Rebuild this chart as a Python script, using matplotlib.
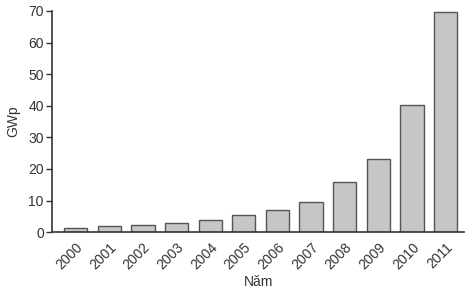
import matplotlib
matplotlib.use("Agg")
import matplotlib.pyplot as plt

years = ["2000", "2001", "2002", "2003", "2004", "2005", "2006", "2007", "2008", "2009", "2010", "2011"]
values = [1.4, 1.8, 2.2, 2.9, 3.9, 5.4, 6.9, 9.5, 15.8, 23.3, 40.1, 69.8]

plt.rcParams['font.family'] = ['Liberation Sans', 'DejaVu Sans']
fig = plt.figure(figsize=(4.74, 2.88), dpi=100)
ax = fig.add_axes([0.110, 0.194, 0.869, 0.768])
dark = "#333333"
fs = 10
x = list(range(len(years)))
ax.bar(x, values, width=0.69, color="#c6c6c6", edgecolor="#555555", linewidth=1.0)
ax.set_xlim(-0.7, 11.55)
ax.set_ylim(0, 70)
ax.set_yticks([0, 10, 20, 30, 40, 50, 60, 70])
ax.set_xticks(x)
ax.set_xticklabels(years, rotation=45, ha="right", rotation_mode="anchor", fontsize=fs, color=dark)
ax.tick_params(axis="x", length=0, pad=6)
ax.tick_params(axis="y", length=4, width=1, color=dark, labelsize=fs, labelcolor=dark, pad=2)
for s in ["top", "right"]:
    ax.spines[s].set_visible(False)
for s in ["left", "bottom"]:
    ax.spines[s].set_color(dark)
    ax.spines[s].set_linewidth(1.2)
ax.set_ylabel("GWp", fontsize=fs, color=dark, labelpad=6)
ax.set_xlabel("Năm", fontsize=fs, color=dark, labelpad=2)
fig.savefig("out.png", dpi=100)
